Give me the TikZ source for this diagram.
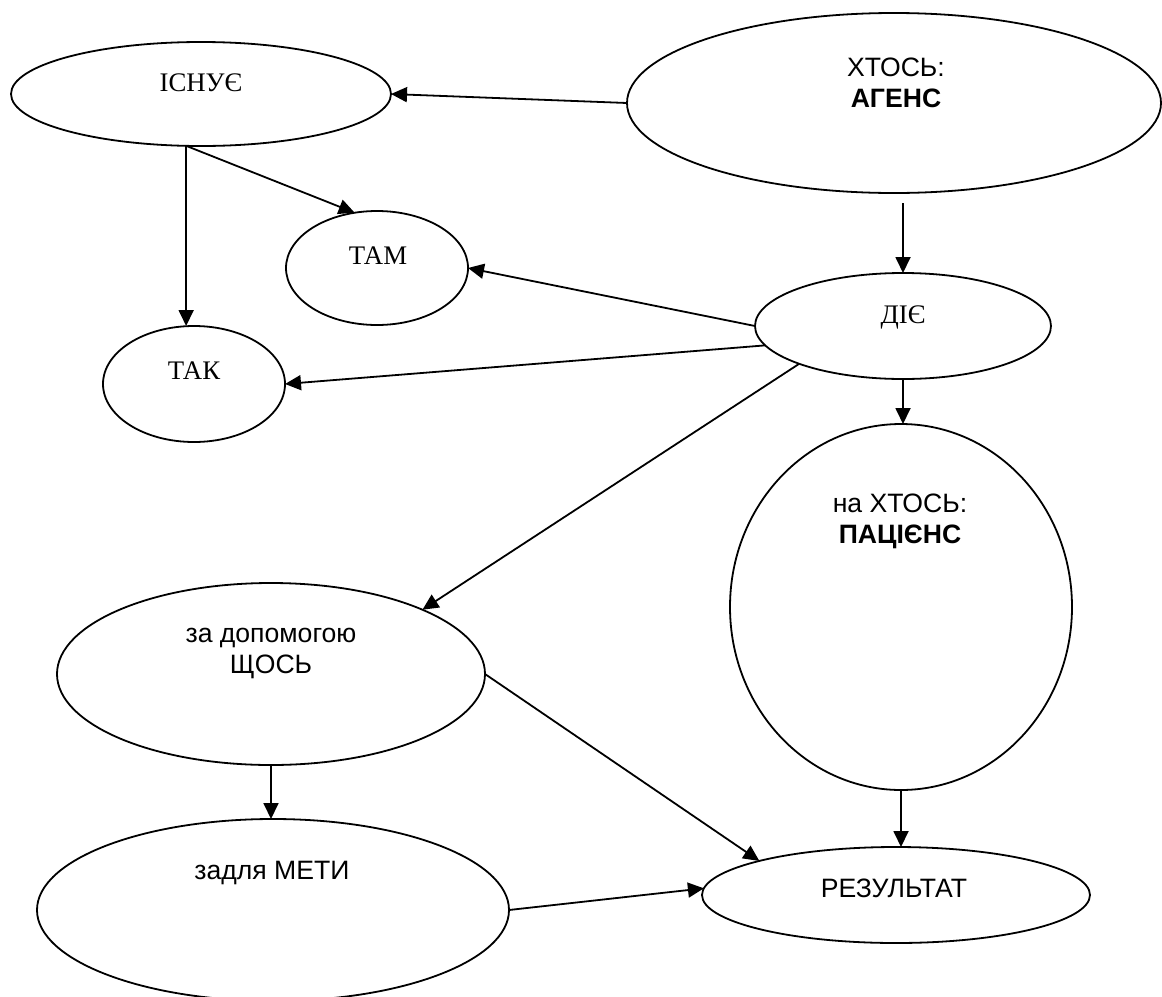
\documentclass[tikz,border=0pt]{standalone}
\usepackage{fontspec}
\setmainfont{Liberation Serif}
\newfontfamily\sansf{Liberation Sans}
\usetikzlibrary{shapes.geometric,arrows.meta}
\begin{document}
\begin{tikzpicture}[x=0.5pt,y=-0.5pt,
  ell/.style={draw, ellipse, line width=0.9pt, inner sep=0pt, outer sep=0pt},
  serlbl/.style={font=\fontsize{13.4}{15.5}\selectfont, inner sep=0pt},
  sanslbl/.style={font=\sansf\fontsize{13.3}{15.5}\selectfont, align=center, inner sep=0pt},
  arr/.style={-{Triangle[length=8pt,width=7.5pt]}, line width=0.9pt}]
\useasboundingbox (0,0) rectangle (1162,996);
\clip (0,0) rectangle (1162,996);
% ellipses (minimum size in pt = radius in px)
\node[ell, minimum width=190pt, minimum height=52pt] (isn) at (201,94) {};
\node[ell, minimum width=267pt, minimum height=90pt] (xt)  at (894,103) {};
\node[ell, minimum width=91pt,  minimum height=57pt] (tam) at (377,268) {};
\node[ell, minimum width=148pt, minimum height=53pt] (die) at (903,326) {};
\node[ell, minimum width=91pt,  minimum height=58pt] (tak) at (194,384) {};
\node[ell, minimum width=171pt, minimum height=183pt] (pac) at (901,607) {};
\node[ell, minimum width=214pt, minimum height=91pt] (dop) at (271,674) {};
\node[ell, minimum width=236pt, minimum height=91pt] (met) at (273,910) {};
\node[ell, minimum width=194pt, minimum height=48pt] (res) at (896,895) {};
% texts
\node[serlbl] (isn-t) at (201,83) {ІСНУЄ};
\node[serlbl] (tam-t) at (378,256) {ТАМ};
\node[serlbl] (die-t) at (903,317) {ДІЄ};
\node[serlbl] (tak-t) at (194,371) {ТАК};
\node[sanslbl] (xt-t) at (896,83) {ХТОСЬ:\\\textbf{АГЕНС}};
\node[sanslbl] (pac-t) at (900,521) {на ХТОСЬ:\\\textbf{ПАЦІЄНС}};
\node[sanslbl] (dop-t) at (271,653) {за допомогою\\ЩОСЬ};
\node[sanslbl] (met-t) at (272,873) {задля МЕТИ};
\node[sanslbl] (res-t) at (894,888) {РЕЗУЛЬТАТ};
% connectors
\draw[arr] (xt.west) -- (isn.east);
\draw[arr] (isn.254) -- (tam.112);
\draw[arr] (isn.254) -- (isn.254 |- tak.north);
\draw[arr, shorten <=5pt] (die.north |- xt.south) -- (die.north);
\draw[arr] (die.west) -- (tam.east);
\draw[arr] (die.188) -- (tak.east);
\draw[arr] (die.200) -- (dop.23);
\draw[arr] (die.south) -- (die.south |- pac.north);
\draw[arr] (pac.south) -- (pac.south |- res.north);
\draw[arr] (dop.east) -- (res.166);
\draw[arr] (dop.south) -- (dop.south |- met.north);
\draw[arr] (met.east) -- (res.178);
\end{tikzpicture}
\end{document}
